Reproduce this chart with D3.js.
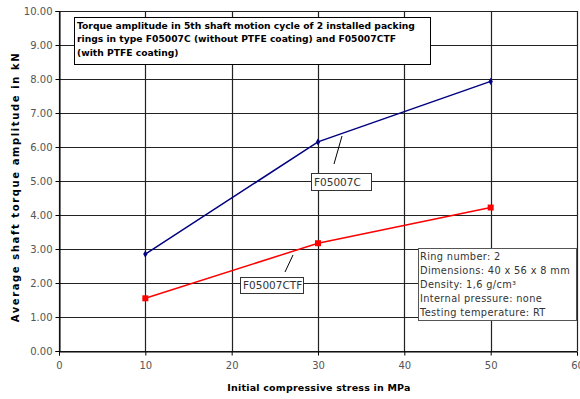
<!DOCTYPE html>
<html><head><meta charset="utf-8">
<script src="https://cdn.jsdelivr.net/npm/d3@7"></script>
<style>body{margin:0;background:#fff}svg{display:block}text{font-family:"DejaVu Sans",sans-serif}</style>
</head><body><svg id="c" width="580" height="399"></svg>
<script>
const stress = [10, 30, 50];
const seriesC = [2.85, 6.15, 7.93];
const seriesCTF = [1.55, 3.17, 4.22];
const xTicks = [0, 10, 20, 30, 40, 50, 60];
const yTicks = [0,1,2,3,4,5,6,7,8,9,10];
const titleLines = ["Torque amplitude in 5th shaft motion cycle of 2 installed packing",
  "rings in type F05007C (without PTFE coating) and F05007CTF",
  "(with PTFE coating)"];
const infoLines = ["Ring number: 2","Dimensions: 40 x 56 x 8 mm","Density: 1,6 g/cm³","Internal pressure: none","Testing temperature: RT"];

const svg = d3.select("#c");
const L=59,R=577,T=11,B=351;
const x = d3.scaleLinear().domain([0,60]).range([L,R]);
const y = d3.scaleLinear().domain([0,10]).range([B,T]);

// grid
svg.append("g").selectAll("line.h").data(yTicks).join("line")
  .attr("x1",L).attr("x2",R).attr("y1",d=>Math.round(y(d))+0.5).attr("y2",d=>Math.round(y(d))+0.5)
  .attr("stroke","#222").attr("stroke-width",1.2);
svg.append("g").selectAll("line.v").data(xTicks).join("line")
  .attr("y1",T).attr("y2",B).attr("x1",d=>Math.round(x(d))+0.5).attr("x2",d=>Math.round(x(d))+0.5)
  .attr("stroke","#222").attr("stroke-width",1.2);

// axes
const yAxis = svg.append("g").attr("transform",`translate(${L+0.5},0)`)
  .call(d3.axisLeft(y).tickValues(yTicks).tickFormat(d3.format(".2f")).tickSize(4).tickPadding(3));
const xAxis = svg.append("g").attr("transform",`translate(0,${B+0.5})`)
  .call(d3.axisBottom(x).tickValues(xTicks).tickSize(4).tickPadding(6));
[yAxis,xAxis].forEach(a=>{a.select(".domain").attr("stroke","#000");a.selectAll(".tick line").attr("stroke","#000");
  a.selectAll("text").attr("font-size",10).attr("fill","#555").style("font-family","DejaVu Sans");});

// lines
const line = d3.line().x(d=>x(d[0])).y(d=>y(d[1]));
const dC = stress.map((s,i)=>[s,seriesC[i]]);
const dT = stress.map((s,i)=>[s,seriesCTF[i]]);
svg.append("path").attr("d",line(dC)).attr("fill","none").attr("stroke","#000080").attr("stroke-width",1.5);
svg.append("path").attr("d",line(dT)).attr("fill","none").attr("stroke","#ff0000").attr("stroke-width",1.5);
svg.append("g").selectAll("path").data(dC).join("path")
  .attr("d",d3.symbol(d3.symbolDiamond,16)).attr("transform",d=>`translate(${x(d[0])},${y(d[1])})`).attr("fill","#000080");
svg.append("g").selectAll("rect").data(dT).join("rect")
  .attr("x",d=>x(d[0])-3).attr("y",d=>y(d[1])-3).attr("width",6).attr("height",6).attr("fill","#ff0000");

// title box
svg.append("rect").attr("x",74.5).attr("y",17.5).attr("width",356).attr("height",47).attr("fill","#fff").attr("stroke","#000");
svg.append("g").selectAll("text").data(titleLines).join("text")
  .attr("x",77).attr("y",(d,i)=>28.5+i*13.5).attr("font-size",9.2).attr("font-weight","bold").attr("fill","#000").text(d=>d);

// info box
svg.append("rect").attr("x",418.5).attr("y",248.5).attr("width",158).attr("height",72).attr("fill","#fff").attr("stroke","#555");
svg.append("g").selectAll("text").data(infoLines).join("text")
  .attr("x",420).attr("y",(d,i)=>260+i*14).attr("font-size",9.8).attr("letter-spacing",0.35).attr("fill","#333").text(d=>d);

// labels
function lab(txt,bx,by,bw,bh,l){
  svg.append("line").attr("x1",l[0]).attr("y1",l[1]).attr("x2",l[2]).attr("y2",l[3]).attr("stroke","#000");
  svg.append("rect").attr("x",bx+0.5).attr("y",by+0.5).attr("width",bw).attr("height",bh).attr("fill","#fff").attr("stroke","#333");
  svg.append("text").attr("x",bx+3).attr("y",by+bh-4).attr("font-size",10.5).attr("fill","#333").text(txt);
}
lab("F05007C",311,173,60,17,[334,164,342,136]);
lab("F05007CTF",240,277,63,16,[285,272,293,255]);

// axis titles
svg.append("text").attr("x",319).attr("y",391).attr("text-anchor","middle").attr("font-size",9.5).attr("font-weight","bold").attr("letter-spacing",0.2).text("Initial compressive stress in MPa");
svg.append("text").attr("transform","translate(19,187) rotate(-90)").attr("text-anchor","middle").attr("font-size",10).attr("font-weight","bold").attr("letter-spacing",1.6).text("Average shaft torque amplitude in kN");
</script></body></html>
